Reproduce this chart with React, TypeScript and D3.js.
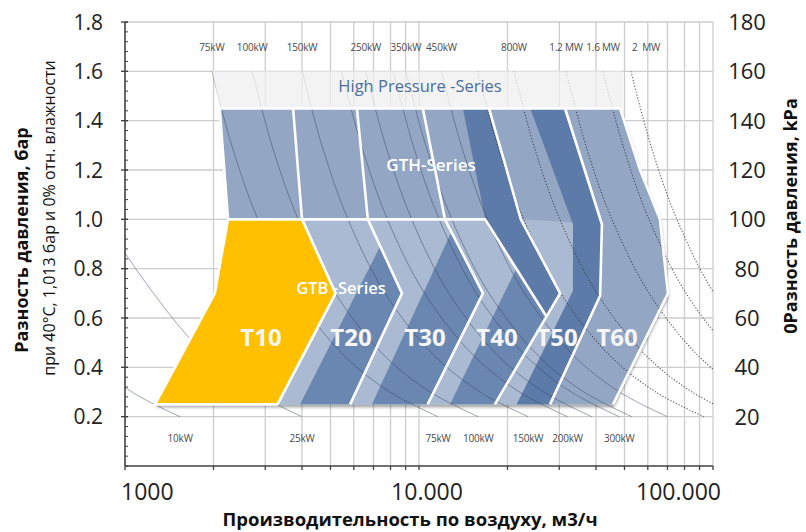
import React from 'react';
import * as d3 from 'd3';

type Pt = [number, number]; // [air flow m3/h, pressure difference bar]

const W = 806;
const H = 532;

const X_TICKS = [1000, 10000, 100000];
const X_LABELS = ['1000', '10.000', '100.000'];
const Y_TICKS = [0.2, 0.4, 0.6, 0.8, 1.0, 1.2, 1.4, 1.6, 1.8];
const KPA_TICKS = [20, 40, 60, 80, 100, 120, 140, 160, 180];

// areas
const HIGH_PRESSURE: Pt[] = [[1980, 1.6], [49400, 1.6], [49400, 1.45], [2100, 1.45]];
const ENVELOPE: Pt[] = [
  [2100, 1.45], [48300, 1.45], [56500, 1.2], [66000, 1.0], [70300, 0.7],
  [45700, 0.25], [1265, 0.25], [2020, 0.7], [2240, 1.0],
];
const GTB_AREA: Pt[] = [
  [4000, 1.0], [22200, 1.0], [41900, 0.98], [41300, 0.69], [27900, 0.25], [3300, 0.25], [5200, 0.7],
];
const CORES: Pt[][] = [
  [[3940, 0.25], [7370, 0.89], [8750, 0.7], [5830, 0.25]],
  [[6920, 0.25], [12900, 0.95], [16500, 0.7], [10700, 0.25]],
  [[12750, 0.25], [24000, 0.92], [30200, 0.7], [18100, 0.25]],
  [[21500, 0.25], [41600, 0.84], [41300, 0.69], [27900, 0.25]],
];
const BANDS: Pt[][] = [
  [[14100, 1.45], [17300, 1.45], [22200, 1.0], [30200, 0.7], [27000, 0.61], [16800, 1.0]],
  [[23900, 1.45], [30900, 1.45], [41900, 0.98], [41300, 0.69], [27900, 0.25], [21500, 0.25], [33400, 0.71], [33400, 0.98]],
];
const T10: Pt[] = [[2240, 1.0], [4000, 1.0], [5200, 0.7], [3300, 0.25], [1265, 0.25], [2020, 0.7]];
const BORDERS: Pt[][] = [
  [[2100, 1.45], [2240, 1.0]],
  [[2100, 1.45], [48300, 1.45]],
  [[3730, 1.45], [4000, 1.0], [5200, 0.7], [3300, 0.25]],
  [[6150, 1.45], [6700, 1.0], [8750, 0.7], [5830, 0.25]],
  [[10300, 1.45], [12250, 1.0], [16500, 0.7], [10700, 0.25]],
  [[17300, 1.45], [22200, 1.0], [30200, 0.7], [18100, 0.25]],
  [[31400, 1.45], [41900, 0.98], [41300, 0.69], [27900, 0.25]],
  [[48300, 1.45], [56500, 1.2], [66000, 1.0], [70300, 0.7], [45700, 0.25]],
  [[2240, 1.0], [16800, 1.0], [27000, 0.61]],
];

const MODEL_NAMES = ['T10', 'T20', 'T30', 'T40', 'T50', 'T60'];
const MODEL_FLOW = [2900, 5870, 10480, 18420, 29470, 47170];

// constant power lines: flow at each pressure level
const POWER_P = [1.6, 1.3, 1.0, 0.7, 0.45, 0.3, 0.2];
const POWER_CURVES = [
  { top: '', bottom: '10kW', dotted: false, q: [262, 306, 376, 503, 735, 1057, 1540] },
  { top: '', bottom: '25kW', dotted: false, q: [590, 700, 860, 1250, 1880, 2746, 4000] },
  { top: '75kW', bottom: '75kW', dotted: false, q: [1975, 2307, 2830, 3787, 5537, 7965, 11600] },
  { top: '100kW', bottom: '100kW', dotted: false, q: [2708, 3162, 3880, 5191, 7589, 10917, 15900] },
  { top: '150kW', bottom: '150kW', dotted: false, q: [4002, 4674, 5734, 7673, 11217, 16135, 23500] },
  { top: '', bottom: '200kW', dotted: false, q: [5450, 6365, 7808, 10448, 15274, 21971, 32000] },
  { top: '250kW', bottom: '', dotted: false, q: [6591, 7697, 9443, 12636, 18472, 26571, 38700] },
  { top: '', bottom: '300kW', dotted: false, q: [8174, 9547, 11712, 15672, 22910, 32957, 48000] },
  { top: '350kW', bottom: '', dotted: false, q: [9026, 10542, 12932, 17305, 25297, 36390, 53000] },
  { top: '450kW', bottom: '', dotted: false, q: [11921, 13923, 17080, 22855, 33411, 48062, 70000] },
  { top: '', bottom: '', dotted: true, q: [15838, 18498, 22692, 30365, 44389, 63854, 93000] },
  { top: '800W', bottom: '', dotted: true, q: [21030, 24564, 30134, 40323, 58947, 84795, 123500] },
  { top: '1.2 MW', bottom: '', dotted: true, q: [31620, 36930, 45310, 60630, 88630, 127500, 185700] },
  { top: '1.6 MW', bottom: '', dotted: true, q: [42270, 49370, 60560, 81040, 118470, 170400, 248200] },
  { top: '2  MW', bottom: '', dotted: true, q: [52600, 61440, 75370, 100860, 147440, 212100, 308900] },
];

const FONT = "'Open Sans', 'Noto Sans', sans-serif";
const GRID = '#cdcdcd';
const BASE = '#93a7c5';
const LIGHT = '#a9bad2';
const DARK = '#6a87b1';
const DARKER = '#5d7ba8';
const YELLOW = '#ffc000';

export default function App() {
  const x = d3.scaleLog().domain([1000, 100000]).range([125, 713]);
  const y = d3.scaleLinear().domain([0, 1.8]).range([466, 22]);
  const yK = d3.scaleLinear().domain([0, 180]).range([466, 22]);

  const poly = d3.line<Pt>().x(d => x(d[0])).y(d => y(d[1])).curve(d3.curveLinearClosed);
  const open = d3.line<Pt>().x(d => x(d[0])).y(d => y(d[1]));
  const smooth = d3.line<Pt>().x(d => x(d[0])).y(d => y(d[1])).curve(d3.curveCatmullRom.alpha(0.5));

  const [x0, x1] = x.range();
  const [yb, yt] = y.range();
  const minor = d3.range(0, 1.801, 0.04);
  const topLabels = POWER_CURVES.filter(c => c.top);

  return (
    <svg width={W} height={H} style={{ position: 'absolute', left: 0, top: 0 }} fontFamily={FONT}>
      <defs>
        <clipPath id="plot">
          <rect x={x0} y={yt} width={x1 - x0} height={yb - yt} />
        </clipPath>
        <filter id="shadow" x="-5%" y="-5%" width="110%" height="115%">
          <feDropShadow dx="1" dy="3" stdDeviation="1.8" floodColor="#000" floodOpacity="0.35" />
        </filter>
      </defs>
      <rect width={W} height={H} fill="#fff" />

      {/* grid */}
      {x.ticks().map(t => (
        <line key={'vx' + t} x1={x(t)} x2={x(t)} y1={yt} y2={yb + 4} stroke={GRID} strokeWidth={1.3} />
      ))}
      {Y_TICKS.map(t => (
        <line key={'hy' + t} x1={x0} x2={x1} y1={y(t)} y2={y(t)} stroke={GRID} strokeWidth={1.3} />
      ))}

      {/* series areas */}
      <path d={poly(ENVELOPE) ?? ''} fill={BASE} filter="url(#shadow)" />
      <path d={poly(GTB_AREA) ?? ''} fill={LIGHT} />
      {CORES.map((c, i) => <path key={'c' + i} d={poly(c) ?? ''} fill={DARK} />)}
      {BANDS.map((c, i) => <path key={'b' + i} d={poly(c) ?? ''} fill={DARKER} />)}

      {/* power lines */}
      <g clipPath="url(#plot)" fill="none">
        {POWER_CURVES.map((c, i) => (
          <path
            key={'p' + i}
            d={smooth(c.q.map((q, j) => [q, POWER_P[j]] as Pt)) ?? ''}
            stroke={c.dotted ? '#333' : '#34415a'}
            strokeWidth={c.dotted ? 1.1 : 0.8}
            strokeOpacity={c.dotted ? 0.8 : 0.6}
            strokeDasharray={c.dotted ? '1.2 1.8' : undefined}
          />
        ))}
      </g>

      <path d={poly(HIGH_PRESSURE) ?? ''} fill="#efefef" fillOpacity={0.78} />

      {BORDERS.map((b, i) => (
        <path key={'w' + i} d={open(b) ?? ''} fill="none" stroke="#fff" strokeWidth={2.6} strokeLinejoin="round" />
      ))}
      <path d={poly(T10) ?? ''} fill={YELLOW} stroke="#fff" strokeWidth={2.6} strokeLinejoin="round" />

      {/* power labels */}
      <g fontSize={10} fill="#4a4a4a" letterSpacing={-0.2}>
        {topLabels.map((c, i) => {
          const last = i === topLabels.length - 1;
          return (
            <text key={'t' + c.top} x={x(c.q[0]) + (last ? 1 : 0)} y={y(1.6) - 20}
              textAnchor={last ? 'start' : 'middle'} style={{ whiteSpace: 'pre' }}>{c.top}</text>
          );
        })}
        {POWER_CURVES.filter(c => c.bottom).map(c => (
          <text key={'bt' + c.bottom} x={x(c.q[c.q.length - 1])} y={y(0.2) + 25} textAnchor="middle">{c.bottom}</text>
        ))}
      </g>

      {/* series labels */}
      <text x={x(10080)} y={y(1.54)} dy="0.35em" textAnchor="middle" fontSize={16.5} fill="#4d6d9f">High Pressure -Series</text>
      <text x={x(10990)} y={y(1.22)} dy="0.35em" textAnchor="middle" fontSize={17} fontWeight={600} fill="#fff">GTH-Series</text>
      <text x={x(5430)} y={y(0.72)} dy="0.35em" textAnchor="middle" fontSize={16.5} fontWeight={600} fill="#fff" style={{ whiteSpace: 'pre' }}>GTB -Series</text>
      {MODEL_NAMES.map((m, i) => (
        <text key={m} x={x(MODEL_FLOW[i])} y={y(0.52)} dy="0.36em" textAnchor="middle" fontSize={24} fontWeight={700} fill="#f6f6f6">{m}</text>
      ))}

      {/* axes */}
      <line x1={x0} x2={x0} y1={yt} y2={yb} stroke="#404040" strokeWidth={1.5} />
      <line x1={x0} x2={x1} y1={yb} y2={yb} stroke="#404040" strokeWidth={1.5} />
      {minor.map(t => (
        <line key={'m' + t} x1={x0} x2={x0 + 3} y1={y(t)} y2={y(t)} stroke="#404040" strokeWidth={1} />
      ))}
      {Y_TICKS.map(t => (
        <line key={'mt' + t} x1={x0 - 4} x2={x0 + 3} y1={y(t)} y2={y(t)} stroke="#404040" strokeWidth={1.3} />
      ))}
      {x.ticks().map(t => (
        <line key={'xt' + t} x1={x(t)} x2={x(t)} y1={yb} y2={yb + 4} stroke="#404040" strokeWidth={1.2} />
      ))}

      <g fontSize={21} fill="#222">
        {Y_TICKS.map(t => (
          <text key={'yl' + t} x={103} y={y(t)} dy="0.36em" textAnchor="end">{t.toFixed(1)}</text>
        ))}
        {KPA_TICKS.map(t => (
          <text key={'kl' + t} x={747} y={yK(t)} dy="0.36em" textAnchor="middle" fontSize={22}>{t}</text>
        ))}
      </g>
      <g fontSize={23} fill="#222">
        <text x={x(X_TICKS[0]) - 4} y={500} textAnchor="start">{X_LABELS[0]}</text>
        <text x={x(X_TICKS[1]) + 8} y={500} textAnchor="middle">{X_LABELS[1]}</text>
        <text x={x(X_TICKS[2]) + 8} y={500} textAnchor="end">{X_LABELS[2]}</text>
      </g>

      {/* titles */}
      <text transform="translate(22,240) rotate(-90)" dy="0.35em" textAnchor="middle" fontSize={18} fontWeight={700} fill="#111">Разность давления, бар</text>
      <text transform="translate(49,218) rotate(-90)" dy="0.35em" textAnchor="middle" fontSize={16} fill="#111">при 40°C, 1,013 бар и 0% отн. влажности</text>
      <text transform="translate(791,216) rotate(-90)" dy="0.35em" textAnchor="middle" fontSize={18} fontWeight={700} fill="#111">0Разность давления, kPa</text>
      <text x={410} y={520} dy="0.35em" textAnchor="middle" fontSize={18.5} fontWeight={700} fill="#111">Производительность по воздуху, м3/ч</text>
    </svg>
  );
}
